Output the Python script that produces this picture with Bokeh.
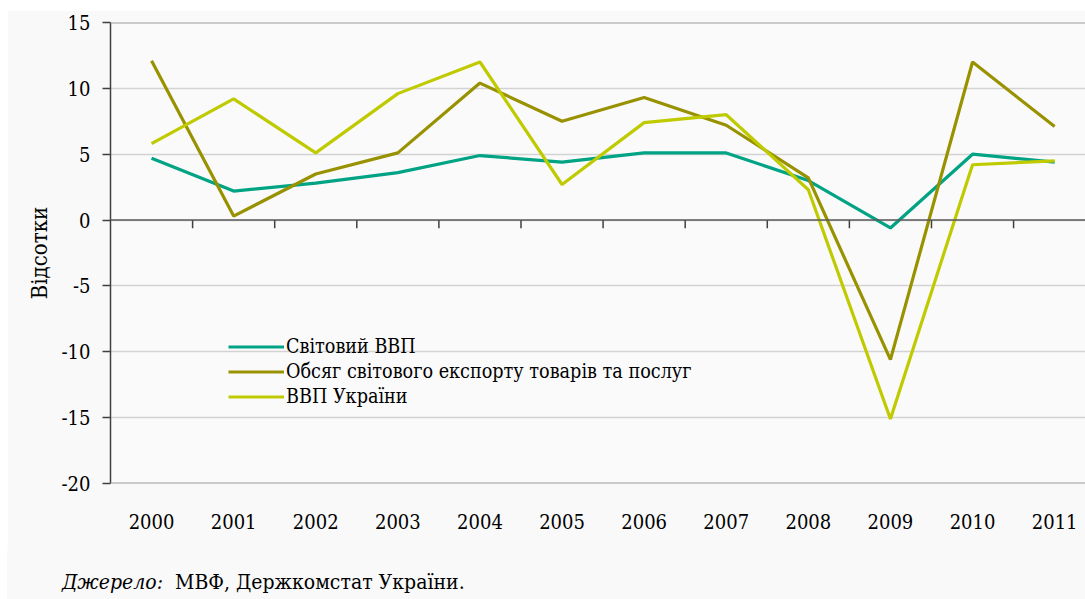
from bokeh.plotting import figure
from bokeh.layouts import column
from bokeh.models import Span, FixedTicker, Legend, LegendItem, Range1d, Div
from bokeh.embed import file_html
from bokeh.resources import INLINE

years = ["2000", "2001", "2002", "2003", "2004", "2005",
         "2006", "2007", "2008", "2009", "2010", "2011"]
world_gdp = [4.7, 2.2, 2.8, 3.6, 4.9, 4.4, 5.1, 5.1, 3.0, -0.6, 5.0, 4.4]
world_exports = [12.1, 0.3, 3.5, 5.1, 10.4, 7.5, 9.3, 7.2, 3.2, -10.6, 12.0, 7.1]
ukraine_gdp = [5.8, 9.2, 5.1, 9.6, 12.0, 2.7, 7.4, 8.0, 2.3, -15.1, 4.2, 4.5]
series_names = ["Світовий ВВП",
                "Обсяг світового експорту товарів та послуг",
                "ВВП України"]
series_colors = ["#00A383", "#999200", "#BFCB00"]
y_ticks = [-20, -15, -10, -5, 0, 5, 10, 15]
y_label = "Відсотки"
source_italic = "Джерело:"
source_text = "МВФ, Держкомстат України."

FONT = "DejaVu Serif Condensed"
FS = "20px"

xs = list(range(len(years)))

p = figure(width=1078, height=540, output_backend="svg", toolbar_location=None,
           x_range=Range1d(-0.5, 11.376), y_range=Range1d(-20, 15),
           min_border_left=103, min_border_top=12, min_border_right=0,
           min_border_bottom=67)
p.background_fill_color = "#FAFAFA"
p.border_fill_color = "#F9F9F9"
p.outline_line_color = None

p.xgrid.grid_line_color = None
p.ygrid.ticker = FixedTicker(ticks=y_ticks)
p.ygrid.grid_line_color = "#D3D3D3"
p.ygrid.grid_line_width = 1.5

p.yaxis.ticker = FixedTicker(ticks=y_ticks)
p.yaxis.major_label_overrides = {t: str(t) for t in y_ticks}
p.yaxis.axis_line_color = "#404040"
p.yaxis.axis_line_width = 1.5
p.yaxis.major_tick_line_color = "#404040"
p.yaxis.major_tick_line_width = 1.5
p.yaxis.major_tick_out = 8
p.yaxis.major_tick_in = 0
p.yaxis.minor_tick_line_color = None
p.yaxis.major_label_text_font = FONT
p.yaxis.major_label_text_font_size = FS
p.yaxis.major_label_text_color = "#000000"
p.yaxis.major_label_standoff = 12
p.yaxis.axis_label = y_label
p.yaxis.axis_label_text_font = FONT
p.yaxis.axis_label_text_font_size = "22px"
p.yaxis.axis_label_text_font_style = "normal"
p.yaxis.axis_label_text_color = "#000000"
p.yaxis.axis_label_standoff = 7

p.xaxis.ticker = FixedTicker(ticks=xs)
p.xaxis.major_label_overrides = {i: y for i, y in zip(xs, years)}
p.xaxis.axis_line_color = None
p.xaxis.major_tick_line_color = None
p.xaxis.minor_tick_line_color = None
p.xaxis.major_label_standoff = 24
p.xaxis.major_label_text_font = FONT
p.xaxis.major_label_text_font_size = FS
p.xaxis.major_label_text_color = "#000000"

p.add_layout(Span(location=y_ticks[-1], dimension="width", line_color="#9A9A9A", line_width=2))
p.add_layout(Span(location=y_ticks[0], dimension="width", line_color="#9A9A9A", line_width=2))

p.add_layout(Span(location=0, dimension="width", line_color="#5A5A5A", line_width=1.5))
bounds = [i + 0.5 for i in xs]
p.segment(x0=bounds, y0=[0] * len(bounds), x1=bounds, y1=[-0.62] * len(bounds),
          line_color="#404040", line_width=1.5)

renderers = []
for vals, col in zip([world_gdp, world_exports, ukraine_gdp], series_colors):
    r = p.line(xs, vals, line_color=col, line_width=3.2)
    renderers.append(r)

legend = Legend(items=[LegendItem(label=n, renderers=[r]) for n, r in zip(series_names, renderers)],
                location=(118, 74))
legend.background_fill_alpha = 0
legend.border_line_color = None
legend.label_text_font = FONT
legend.label_text_font_size = "19.6px"
legend.label_text_color = "#000000"
legend.glyph_width = 56
legend.glyph_height = 25
legend.label_height = 25
legend.spacing = 0
legend.padding = 0
legend.margin = 0
legend.label_standoff = 2
p.add_layout(legend, "center")

src = Div(text=('<div style="padding:17px 0 0 55px; font-size:21px; '
                f"font-family:'{FONT}'; color:#000;\">"
                f"<i>{source_italic}</i>&nbsp; {source_text}</div>"),
          width=1078, height=49, margin=0, styles={"background-color": "#F9F9F9"})

layout = column(p, src, spacing=0, margin=(10, 0, 0, 7))
open("out.html", "w").write(file_html(layout, INLINE))
